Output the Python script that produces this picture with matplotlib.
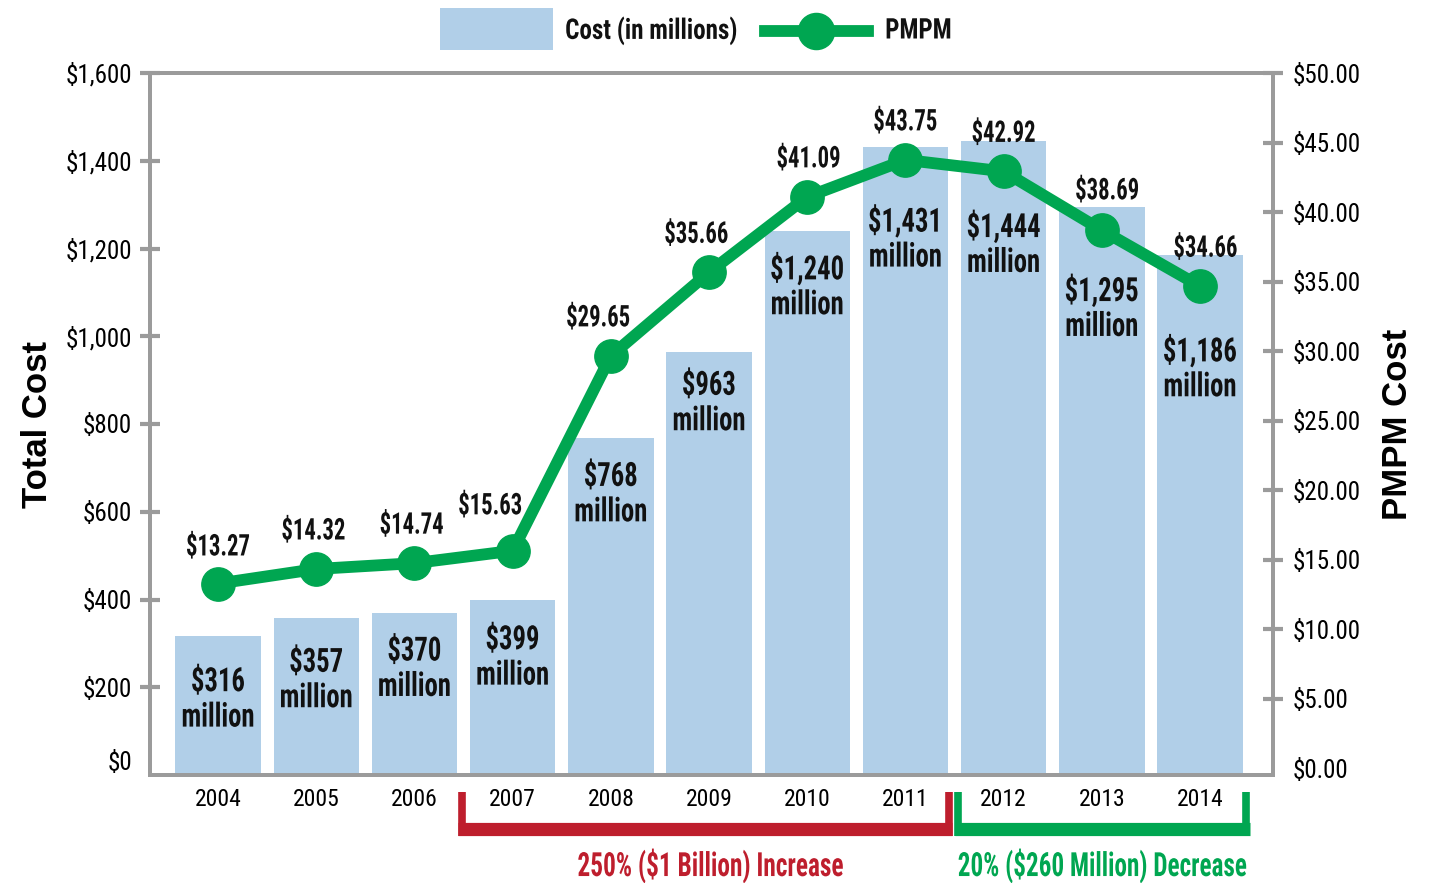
import matplotlib.pyplot as plt
from matplotlib import font_manager, patheffects
from matplotlib.font_manager import FontProperties
from matplotlib.lines import Line2D
from matplotlib.patches import Rectangle
from matplotlib.transforms import Affine2D
import matplotlib.transforms as mtransforms

years = ['2004', '2005', '2006', '2007', '2008', '2009', '2010', '2011', '2012', '2013', '2014']
cost = [316, 357, 370, 399, 768, 963, 1240, 1431, 1444, 1295, 1186]
cost_labels = ['$316', '$357', '$370', '$399', '$768', '$963', '$1,240', '$1,431', '$1,444', '$1,295', '$1,186']
pmpm = [13.27, 14.32, 14.74, 15.63, 29.65, 35.66, 41.09, 43.75, 42.92, 38.69, 34.66]
left_ticks = [0, 200, 400, 600, 800, 1000, 1200, 1400, 1600]
right_ticks = [0, 5, 10, 15, 20, 25, 30, 35, 40, 45, 50]

# label placement (offsets in points)
bar_label_drop = [33, 32, 28, 29, 28, 24, 28, 54, 62, 61, 70]
pmpm_label_off = [(0, 26), (-2, 27), (-2, 27), (-16, 32), (-9, 27), (-9, 27),
                  (1, 27), (0, 27), (0, 27), (4, 28), (4, 27)]

bar_blue = '#b1cfe8'
green = '#00a651'
red = '#be1e2d'
grey = '#9b9b9b'
ink = '#111111'

# look for a condensed face (static files only), fall back to Liberation Sans
candidates = ['Roboto Condensed', 'Archivo Narrow', 'PT Sans Narrow', 'Liberation Sans Narrow',
              'Pragati Narrow', 'Sofia Sans Condensed', 'Encode Sans Condensed',
              'IBM Plex Sans Condensed', 'Barlow Condensed']


def find_face(weight):
    fonts = font_manager.fontManager.ttflist
    for name in candidates:
        hits = [f for f in fonts if f.name == name and f.style == 'normal' and '[' not in f.fname]
        if not hits:
            continue
        hits.sort(key=lambda f: abs(f.weight - weight) if isinstance(f.weight, int) else 999)
        return hits[0].fname
    return None


bold_file = find_face(700)
reg_file = find_face(400)


def cond(size, bold=True):
    fname = bold_file if bold else reg_file
    if fname:
        return FontProperties(fname=fname, size=size)
    return FontProperties(family='Liberation Sans', weight='bold' if bold else 'normal', size=size)


class SqueezeX(patheffects.AbstractPathEffect):
    """Narrow the glyphs horizontally, about the line centre (or left edge)."""

    def __init__(self, sx, anchor='center'):
        super().__init__()
        self.sx = sx
        self.anchor = anchor

    def draw_path(self, renderer, gc, tpath, affine, rgbFace=None):
        ext = tpath.get_extents(affine)
        cx = ext.x0 if self.anchor == 'left' else (ext.x0 + ext.x1) / 2
        squeeze = Affine2D().translate(-cx, 0).scale(self.sx, 1).translate(cx, 0)
        renderer.draw_path(gc, tpath, affine + squeeze, rgbFace)


plt.rcParams['font.family'] = ['Liberation Sans', 'DejaVu Sans']

fig = plt.figure(figsize=(14.29, 8.83), dpi=100)
ax = fig.add_axes([150/1429, 1 - 775/883, 1123/1429, 702/883])
ax2 = ax.twinx()

x = list(range(len(years)))
ax.bar(x, cost, width=0.87, color=bar_blue, zorder=1)
ax.set_xlim(-0.693, 10.743)
ax.set_ylim(0, 1600)
ax2.set_ylim(-0.5, 50)

ax.set_xticks(x)
ax.set_xticklabels(years)
ax.tick_params(axis='x', length=0, pad=9)
ax.set_yticks(left_ticks)
ax.set_yticklabels(['${:,}'.format(v) for v in left_ticks])
ax.tick_params(axis='y', direction='inout', length=14, width=3, color=grey, pad=6)
ax2.set_yticks(right_ticks)
ax2.set_yticklabels(['${:.2f}'.format(v) for v in right_ticks])
ax2.tick_params(axis='y', direction='inout', length=14, width=3, color=grey, pad=7)
ax2.yaxis.get_major_ticks()[0].tick2line.set_visible(False)
ax.yaxis.get_major_ticks()[0].tick1line.set_visible(False)
for lab in ax.get_xticklabels():
    lab.set_fontproperties(cond(17, bold=False))
for lab in ax.get_yticklabels() + ax2.get_yticklabels():
    lab.set_fontproperties(cond(18, bold=False))
ax.get_yticklabels()[0].set_verticalalignment('bottom')

for a in (ax, ax2):
    for s in a.spines.values():
        s.set_color(grey)
        s.set_linewidth(2.8)

ax.set_ylabel('Total Cost', fontsize=25, fontweight='bold', labelpad=8)
ax2.set_ylabel('PMPM Cost', fontsize=25, fontweight='bold', labelpad=15)

# bar value labels, two lines each
sq_bar = [SqueezeX(0.8)]
for xi, c, lab, drop in zip(x, cost, cost_labels, bar_label_drop):
    ax.annotate(lab, (xi, c), xytext=(0, -drop), textcoords='offset points', ha='center',
                va='center', fontproperties=cond(24), color=ink, zorder=3, path_effects=sq_bar)
    ax.annotate('million', (xi, c), xytext=(0, -drop - 25.5), textcoords='offset points', ha='center',
                va='center', fontproperties=cond(24), color=ink, zorder=3, path_effects=sq_bar)

ax2.plot(x, pmpm, color=green, lw=8.5, marker='o', markersize=24, zorder=4)
ax2.set_zorder(ax.get_zorder() + 1)
ax2.patch.set_visible(False)
for xi, p, (dx, dy) in zip(x, pmpm, pmpm_label_off):
    ax2.annotate('${:.2f}'.format(p), (xi, p), xytext=(dx, dy), textcoords='offset points',
                 ha='center', va='center', fontproperties=cond(21.5), color=ink,
                 path_effects=[SqueezeX(0.76)])

# brackets below the axis
trans = mtransforms.blended_transform_factory(ax.transData, ax.transAxes)
y_top, y_mid, y_bot = -0.024, -0.077, -0.087
for x0, x1, col in [(2.48, 7.44, red), (7.54, 10.47, green)]:
    ax.plot([x0 - 0.035, x1 + 0.035], [y_mid, y_mid], color=col, lw=9.5, transform=trans,
            clip_on=False, solid_capstyle='butt')
    for xv in (x0, x1):
        ax.plot([xv, xv], [y_top, y_bot], color=col, lw=5.5, transform=trans,
                clip_on=False, solid_capstyle='butt')
ax.text(5.02, -0.13, '250% ($1 Billion) Increase', transform=trans, ha='center', va='center',
        fontproperties=cond(24), color=red, path_effects=[SqueezeX(0.76)])
ax.text(9.01, -0.13, '20% ($260 Million) Decrease', transform=trans, ha='center', va='center',
        fontproperties=cond(24), color=green, path_effects=[SqueezeX(0.755)])

# legend row along the top
fig.patches.append(Rectangle((440/1429, 1 - 50/883), 113/1429, 42/883, transform=fig.transFigure,
                             facecolor=bar_blue, edgecolor='none'))
fig.text(565/1429, 1 - 31/883, 'Cost (in millions)', ha='left', va='center',
         fontproperties=cond(20.5), color=ink, path_effects=[SqueezeX(0.88, 'left')])
fig.add_artist(Line2D([765/1429, 868/1429], [1 - 31/883, 1 - 31/883], color=green, lw=8.5,
                      transform=fig.transFigure))
fig.add_artist(Line2D([816/1429], [1 - 31/883], color=green, marker='o', markersize=26,
                      transform=fig.transFigure))
fig.text(885/1429, 1 - 31/883, 'PMPM', ha='left', va='center',
         fontproperties=cond(20.5), color=ink, path_effects=[SqueezeX(0.88, 'left')])

fig.savefig('out.png', dpi=100)
